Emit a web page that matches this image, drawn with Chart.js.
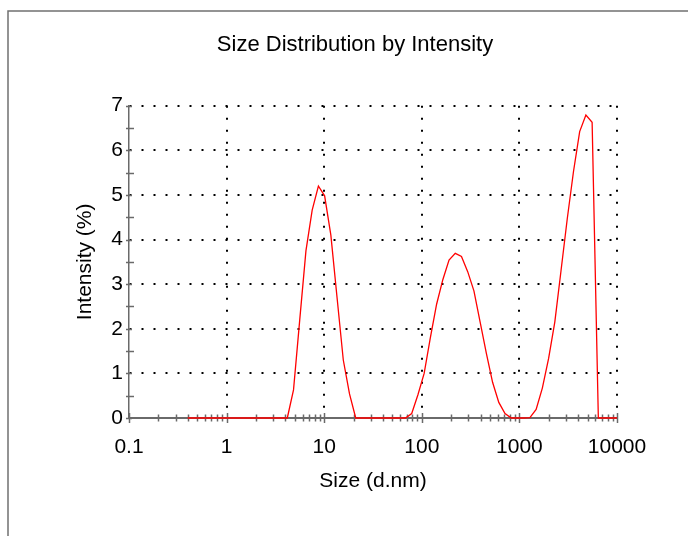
<!DOCTYPE html>
<html>
<head>
<meta charset="utf-8">
<script src="https://cdn.jsdelivr.net/npm/chart.js@4/dist/chart.umd.min.js"></script>
<style>
  html, body { margin: 0; padding: 0; background: #fff; }
  #wrap { position: relative; width: 688px; height: 536px; }
  canvas { display: block; }
</style>
</head>
<body>
<div id="wrap"><canvas id="c" width="688" height="536"></canvas></div>
<script>
// Size classes (d.nm)
const sizes = [
  0.4, 0.4632, 0.5365, 0.6213, 0.7195, 0.8332, 0.9649, 1.117, 1.294, 1.499,
  1.736, 2.010, 2.328, 2.696, 3.122, 3.615, 4.187, 4.849, 5.615, 6.503,
  7.531, 8.721, 10.10, 11.70, 13.54, 15.69, 18.17, 21.04, 24.36, 28.21,
  32.67, 37.84, 43.82, 50.75, 58.77, 68.06, 78.82, 91.28, 105.7, 122.4,
  141.8, 164.2, 190.1, 220.2, 255.0, 295.3, 342.0, 396.1, 458.7, 531.2,
  615.1, 712.4, 825.0, 955.4, 1106, 1281, 1484, 1718, 1990, 2305,
  2669, 3091, 3580, 4145, 4801, 5560, 6439, 7456, 8635, 10000
];

// Intensity (%) per size class
const intensity = [
  0, 0, 0, 0, 0, 0, 0, 0, 0, 0,
  0, 0, 0, 0, 0, 0, 0, 0.63, 2.2, 3.75,
  4.66, 5.2, 4.98, 4.1, 2.7, 1.3, 0.54, 0, 0, 0,
  0, 0, 0, 0, 0, 0, 0.1, 0.52, 1.0, 1.8,
  2.55, 3.1, 3.54, 3.69, 3.62, 3.28, 2.85, 2.15, 1.45, 0.8,
  0.35, 0.1, 0, 0, 0, 0.01, 0.19, 0.67, 1.33, 2.15,
  3.3, 4.46, 5.52, 6.42, 6.79, 6.63, 0, 0, 0, 0
];

// Axis ticks
const xDecades = [0.1, 1, 10, 100, 1000, 10000];
const xDecadeLabels = ['0.1', '1', '10', '100', '1000', '10000'];
const yTicks = [0, 0.5, 1, 1.5, 2, 2.5, 3, 3.5, 4, 4.5, 5, 5.5, 6, 6.5, 7];
const yTickLabels = ['0', '', '1', '', '2', '', '3', '', '4', '', '5', '', '6', '', '7'];

// Log ticks: each decade plus 2..9 multiples inside it
const xTicks = [];
xDecades.forEach((d, i) => {
  xTicks.push({ value: d, label: xDecadeLabels[i], major: true });
  if (i < xDecades.length - 1) {
    for (let k = 2; k <= 9; k++) xTicks.push({ value: +(d * k).toPrecision(6), label: '', major: false });
  }
});

Chart.defaults.font.family = '"Liberation Sans", Arial, sans-serif';
Chart.defaults.color = '#000';

const AXIS_GREY = '#6a6a6a';

// Frame line and the short tick marks that cross both axes
const axisMarks = {
  id: 'axisMarks',
  beforeDraw(chart) {
    const ctx = chart.ctx;
    ctx.save();
    ctx.strokeStyle = '#707070';
    ctx.lineWidth = 1.5;
    ctx.beginPath();
    ctx.moveTo(8, chart.height);
    ctx.lineTo(8, 11);
    ctx.lineTo(chart.width, 11);
    ctx.stroke();
    ctx.restore();
  },
  beforeDatasetsDraw(chart) {
    const ctx = chart.ctx;
    const xs = chart.scales.x, ys = chart.scales.y;
    const area = chart.chartArea;
    ctx.save();
    ctx.strokeStyle = AXIS_GREY;
    ctx.lineWidth = 1.5;
    xTicks.forEach(t => {
      const px = Math.round(xs.getPixelForValue(t.value)) + 0.5;
      const h = t.major ? 5 : 3.5;
      ctx.beginPath();
      ctx.moveTo(px, area.bottom - h);
      ctx.lineTo(px, area.bottom + h);
      ctx.stroke();
    });
    yTicks.forEach((v, i) => {
      const py = Math.round(ys.getPixelForValue(v)) + 0.5;
      const right = yTickLabels[i] === '' ? 5 : 3;
      ctx.beginPath();
      ctx.moveTo(area.left - 3, py);
      ctx.lineTo(area.left + right, py);
      ctx.stroke();
    });
    ctx.restore();
  }
};

new Chart(document.getElementById('c'), {
  type: 'line',
  data: {
    datasets: [{
      data: sizes.map((s, i) => ({ x: s, y: intensity[i] })),
      borderColor: '#ff0000',
      borderWidth: 1.3,
      pointRadius: 0,
      tension: 0,
      fill: false,
      clip: false
    }]
  },
  options: {
    responsive: false,
    animation: false,
    layout: { padding: { left: 22, right: 0, top: 0, bottom: 0 } },
    plugins: {
      legend: { display: false },
      tooltip: { enabled: false },
      title: {
        display: true,
        text: 'Size Distribution by Intensity',
        color: '#000',
        font: { size: 22, weight: 'normal' },
        padding: { top: 32, bottom: 47.3 }
      }
    },
    scales: {
      x: {
        type: 'logarithmic',
        min: 0.1,
        max: 10000,
        afterBuildTicks(scale) {
          scale.ticks = xTicks.map(t => ({ value: t.value }));
        },
        afterFit(scale) { scale.height = 118; },
        ticks: {
          autoSkip: false,
          maxRotation: 0,
          minRotation: 0,
          padding: 16.4,
          color: '#000',
          font: { size: 21 },
          callback: (value, index) => xTicks[index] ? xTicks[index].label : ''
        },
        grid: {
          drawTicks: false,
          lineWidth: 2,
          color: ctx => (ctx.tick && xTicks[ctx.index] && xTicks[ctx.index].major && ctx.index !== 0) ? '#000' : 'rgba(0,0,0,0)'
        },
        border: { display: true, color: AXIS_GREY, width: 2, dash: [2, 10] },
        title: {
          display: true,
          text: 'Size (d.nm)',
          color: '#000',
          font: { size: 21 },
          padding: { top: 0, bottom: 42.4 }
        }
      },
      y: {
        min: 0,
        max: 7,
        afterBuildTicks(scale) {
          scale.ticks = yTicks.map(v => ({ value: v }));
        },
        afterFit(scale) { scale.width = 107; },
        ticks: {
          autoSkip: false,
          padding: 6,
          color: '#000',
          font: { size: 21 },
          callback: (value, index) => yTickLabels[index]
        },
        grid: {
          drawTicks: false,
          lineWidth: 2,
          color: ctx => (ctx.tick && yTickLabels[ctx.index] !== '' && ctx.index !== 0) ? '#000' : 'rgba(0,0,0,0)'
        },
        border: { display: true, color: AXIS_GREY, width: 1.5, dash: [2, 10] },
        title: {
          display: true,
          text: 'Intensity (%)',
          color: '#000',
          font: { size: 21 },
          padding: { top: 51, bottom: 0 }
        }
      },
      // empty right-hand margin box
      margin: {
        type: 'linear',
        position: 'right',
        display: true,
        afterFit(scale) { scale.width = 71; },
        ticks: { display: false },
        grid: { display: false },
        border: { display: false }
      }
    }
  },
  plugins: [axisMarks]
});
</script>
</body>
</html>
